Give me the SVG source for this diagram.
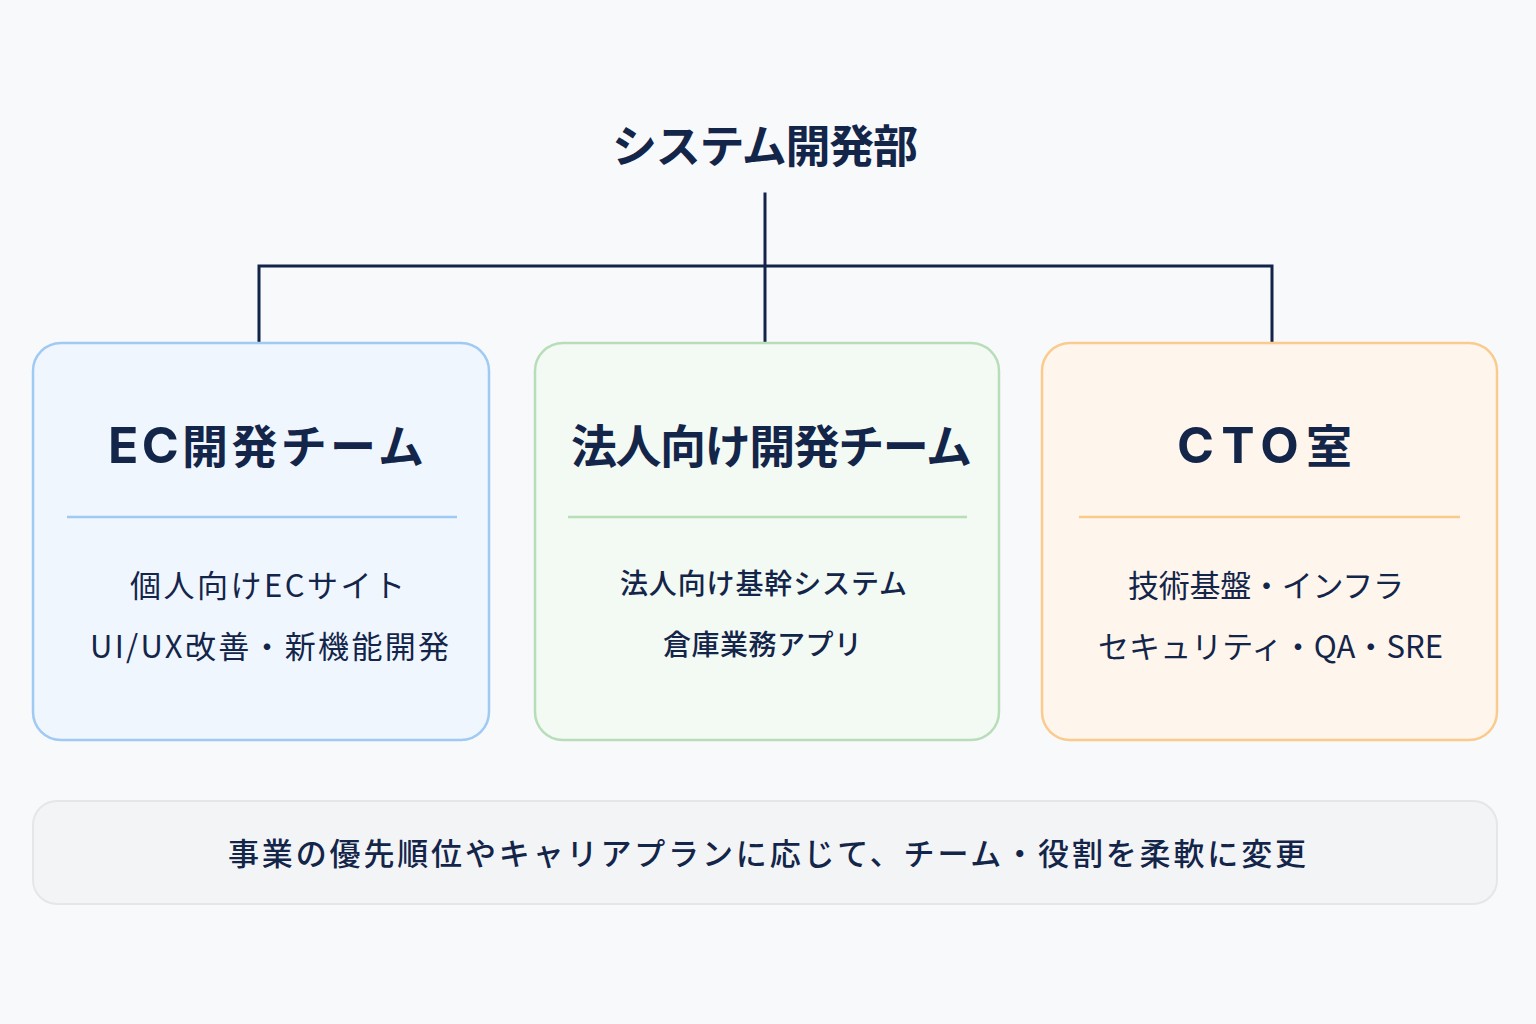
<svg xmlns="http://www.w3.org/2000/svg" width="1536" height="1024" viewBox="0 0 1536 1024">
<defs>
<style>
text{font-family:"Noto Sans CJK JP","Noto Sans",sans-serif;fill:#14254a;text-anchor:middle}
.title{font-size:45px;font-weight:700}
.head{font-size:46px;font-weight:700}
.lat{font-family:Inter,"Noto Sans",sans-serif;font-size:50px;font-weight:700}
.body{font-size:31px;font-weight:400}
.bodyb{font-size:28px;font-weight:500}
.note{font-size:31px;font-weight:500}
.conn{fill:none;stroke:#13234a;stroke-width:3;stroke-linecap:square}
.card{stroke-width:2.5}
</style>
</defs>
<rect x="0" y="0" width="1536" height="1024" fill="#f8f9fb"/>
<g id="root">
<text class="title" x="765" y="163" textLength="306" lengthAdjust="spacing">システム開発部</text>
</g>
<g id="connectors">
<path class="conn" d="M765 194 V342"/>
<path class="conn" d="M259 342 V266 H1272 V342"/>
</g>
<g id="ec-team">
<rect class="card" x="33" y="343" width="456" height="397" rx="28" fill="#f0f6fe" stroke="#9ecaf4"/>
<text class="head" x="266" y="463" textLength="316" lengthAdjust="spacing"><tspan class="lat">EC</tspan>開発チーム</text>
<line x1="67" y1="517" x2="457" y2="517" stroke="#9ecaf4" stroke-width="2.5"/>
<text class="body" x="267.5" y="597" textLength="275" lengthAdjust="spacing">個人向けECサイト</text>
<text class="body" x="269.5" y="658" textLength="359" lengthAdjust="spacing">UI/UX改善・新機能開発</text>
</g>
<g id="corp-team">
<rect class="card" x="535" y="343" width="464" height="397" rx="28" fill="#f3f9f3" stroke="#b7deb9"/>
<text class="head" x="771.5" y="463" textLength="401" lengthAdjust="spacing">法人向け開発チーム</text>
<line x1="568" y1="517" x2="967" y2="517" stroke="#b7deb9" stroke-width="2.5"/>
<text class="bodyb" x="763.5" y="594" textLength="287" lengthAdjust="spacing">法人向け基幹システム</text>
<text class="bodyb" x="762.5" y="655" textLength="199" lengthAdjust="spacing">倉庫業務アプリ</text>
</g>
<g id="cto">
<rect class="card" x="1042" y="343" width="455" height="397" rx="28" fill="#fef6ec" stroke="#fbcb8d"/>
<text class="head" x="1264.5" y="463" textLength="175" lengthAdjust="spacing"><tspan class="lat">CTO</tspan>室</text>
<line x1="1079" y1="517" x2="1460" y2="517" stroke="#fbc98a" stroke-width="2.5"/>
<text class="body" x="1266" y="597" textLength="276" lengthAdjust="spacing">技術基盤・インフラ</text>
<text class="body" x="1270.5" y="658" textLength="345" lengthAdjust="spacing">セキュリティ・QA・SRE</text>
</g>
<g id="note">
<rect x="33" y="801" width="1464" height="103" rx="24" fill="#f3f4f6" stroke="#e4e6e9" stroke-width="2"/>
<text class="note" x="767" y="865" textLength="1078" lengthAdjust="spacing">事業の優先順位やキャリアプランに応じて、チーム・役割を柔軟に変更</text>
</g>
</svg>
